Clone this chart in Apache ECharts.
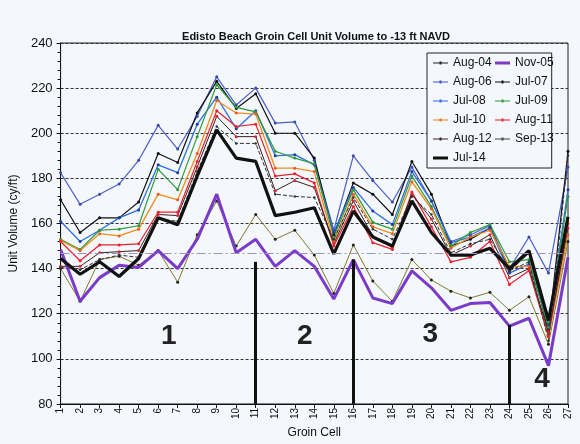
<!DOCTYPE html>
<html>
<head>
<meta charset="utf-8">
<script src="https://cdn.jsdelivr.net/npm/echarts@6/dist/echarts.min.js"></script>
<style>
html,body{margin:0;padding:0;background:#f4f7fb;}
#c{width:580px;height:444px;}
</style>
</head>
<body>
<div id="c"></div>
<script>
// ---- data ----
var cells = ['1','2','3','4','5','6','7','8','9','10','11','12','13','14','15','16','17','18','19','20','21','22','23','24','25','26','27'];
var seriesNames = ['Aug-04','Nov-05','Aug-06','Jul-07','Jul-08','Jul-09','Jul-10','Aug-11','Aug-12','Sep-13','Jul-14'];
var aug04 = [140,125.5,144,145.5,141.5,148,134,155,170,150,164,153,157,146,129,150.5,134.5,125.5,144,135,130,127,129.5,121.5,127.5,106.5,152];
var nov05 = [148.5,125.5,136,141.5,140.5,148,140,153,173,147,153,141,148,141,126.5,144,127,124.5,139,131.5,121.5,124.5,125,114.5,118,97,145];
var aug06 = [182.5,168.5,173,177.5,188,203.5,193,207.5,225,212.5,220,204.5,205,188,157,190,179,169.5,185,170,152,155,159,140,154,138,185];
var jul07 = [170.5,156,162.5,162.5,169.5,191,187,209,223,211,217.5,200,200,189,155,178,173,164,187.5,173,150,153,158,139,147,112,192];
var jul08 = [161,152,157,162.5,166,186,182.5,204,216,202,210,190,190.5,186,156,176,165.5,159.5,183,170,151.5,154,158,138,142,115,175];
var jul09 = [153,148.5,157,157.5,159,184,175,198.5,221.5,211.5,209.5,192,189,186.5,154,175,160.5,157.5,181,167.5,150,156,159.5,143,144,114,172];
var jul10 = [152.5,148,155.5,154.5,157.5,173,170.5,191,214.5,209,208.5,184.5,184.5,183,152,173,158.5,155.5,178.5,166.5,149,154,157,141,141,110,155];
var aug11 = [152,143.5,150.5,150.5,151,165,165,187.5,210,203,204,181,182,178,150,167.5,151.5,148.5,174,158.5,143,145,152,133,139,110,160];
var aug12 = [141,141,147,147.5,148,164,163.5,185,207.5,198.5,198.5,174.5,179,176,151,170,154.5,149.5,173,162,146,150,155,136,140,112,158];
var sep13 = [140.5,139.5,144,146,145,162,161,183,203,195.5,195.5,173,172,171.5,153,171.5,157.5,153,172,164,147,151,153,139,143,108,190];
var jul14 = [144.5,137.5,143,136.5,144.5,162.5,159.5,181,201.5,189,187.5,163.5,165,167,146.5,165.5,154,150,170,156,146,146,149,140,148,117,163];
var yTicks = [80,100,120,140,160,180,200,220,240];
var referenceLevel = 147;
var dividerCells = ['11','16','24'];
var dividerTops = [143,144,115];
var regionLabels = ['1','2','3','4'];
var regionCells = ['7','13','20','25'];
var regionValues = [110,110,111,91];

// ---- styles ----
var FONT = 'Liberation Sans, Arial, sans-serif';
var ICON_THIN = 'path://M0,0L0.01,0L0,0.01ZM30,20L29.99,20L30,19.99ZM0,9.2L30,9.2L30,10.8L0,10.8ZM13,7L17,7L17,13L13,13Z';
var ICON_THICK = 'path://M0,0L0.01,0L0,0.01ZM30,20L29.99,20L30,19.99ZM0,7L30,7L30,13L0,13Z';
var styles = {
  'Aug-04': {line:'#7f7a2c', item:'#222', w:1, sym:'circle', ss:3},
  'Nov-05': {line:'#7a3cc8', item:'#7a3cc8', w:3, sym:'none', ss:0},
  'Aug-06': {line:'#4b5fcf', item:'#3a4aa8', w:1.2, sym:'circle', ss:3},
  'Jul-07': {line:'#111', item:'#111', w:1.2, sym:'circle', ss:3},
  'Jul-08': {line:'#2f6fe0', item:'#1d3f9a', w:1.3, sym:'circle', ss:3},
  'Jul-09': {line:'#2c9a3c', item:'#2c9a3c', w:1.2, sym:'circle', ss:3},
  'Jul-10': {line:'#f28c1c', item:'#ea5a22', w:1.3, sym:'circle', ss:3},
  'Aug-11': {line:'#e8222c', item:'#e8222c', w:1.2, sym:'circle', ss:3},
  'Aug-12': {line:'#3a2222', item:'#d8282c', w:1, sym:'circle', ss:3},
  'Sep-13': {line:'#333', item:'#333', w:1, sym:'circle', ss:2.5, dash:'dashed'},
  'Jul-14': {line:'#111', item:'#111', w:3.2, sym:'none', ss:0}
};
var legendIconColor = {'Aug-04':'#222','Nov-05':'#7a3cc8','Aug-06':'#3f55c4','Jul-07':'#111','Jul-08':'#2f6fe0','Jul-09':'#2c9a3c','Jul-10':'#f07a1c','Aug-11':'#e8222c','Aug-12':'#3a2222','Sep-13':'#444','Jul-14':'#111'};
var dataMap = {'Aug-04':aug04,'Nov-05':nov05,'Aug-06':aug06,'Jul-07':jul07,'Jul-08':jul08,'Jul-09':jul09,'Jul-10':jul10,'Aug-11':aug11,'Aug-12':aug12,'Sep-13':sep13,'Jul-14':jul14};
var drawOrder = ['Aug-04','Aug-06','Jul-07','Jul-08','Jul-09','Jul-10','Aug-11','Aug-12','Sep-13','Nov-05','Jul-14'];

var series = drawOrder.map(function(n){
  var s = styles[n];
  return {
    name:n, type:'line', data:dataMap[n], symbol:s.sym, symbolSize:s.ss, showSymbol:s.sym!=='none',
    lineStyle:{color:s.line, width:s.w, type:s.dash||'solid'},
    itemStyle:{color:s.item},
    emphasis:{disabled:true}, animation:false, z: (n==='Jul-14'||n==='Nov-05')?3:2
  };
});

var mlData = [{yAxis:referenceLevel, lineStyle:{color:'#a393b8', width:1, type:[9,3,2,3]}}];
dividerCells.forEach(function(c,i){
  mlData.push([{coord:[c, dividerTops[i]]},{coord:[c, yTicks[0]]}]);
});
series.push({
  name:'annot', type:'line', data:[], animation:false,
  markLine:{silent:true, symbol:'none', label:{show:false}, lineStyle:{color:'#111', width:3, type:'solid'}, data:mlData, animation:false},
  markPoint:{silent:true, symbol:'circle', symbolSize:0,
    label:{show:true, color:'#222', fontSize:28, fontWeight:'bold', fontFamily:FONT, position:'inside'},
    data: regionLabels.map(function(t,i){
      var off = [[-9,0],[10,0],[-1,0],[13,0]][i];
      return {coord:[regionCells[i], regionValues[i]], value:t, label:{formatter:t, offset:off}};
    }),
    animation:false}
});

function legendItems(names){
  return names.map(function(n){
    return {name:n, icon:(n==='Nov-05'||n==='Jul-14')?ICON_THICK:ICON_THIN, itemStyle:{color:legendIconColor[n]}};
  });
}
var legendCommon = {orient:'vertical', itemWidth:15, itemHeight:10, itemGap:7,
  textStyle:{fontFamily:FONT, fontSize:12, color:'#111', lineHeight:12}, selectedMode:false};

var option = {
  backgroundColor:'#f4f7fb',
  animation:false,
  title:{text:'Edisto Beach Groin Cell Unit Volume to -13 ft NAVD', left:311, top:26, textAlign:'center',
    textStyle:{fontFamily:FONT, fontSize:11, fontWeight:'bold', color:'#111'}},
  grid:{left:56, right:12, top:43, bottom:34, show:true, borderColor:'#222', borderWidth:1, backgroundColor:'transparent'},
  legend:[
    Object.assign({}, legendCommon, {left:427, top:53, padding:[4,60,4,6], borderColor:'#222', borderWidth:1, backgroundColor:'#f4f7fb',
      data:legendItems(['Aug-04','Aug-06','Jul-08','Jul-10','Aug-12','Jul-14'])}),
    Object.assign({}, legendCommon, {left:491, top:53, padding:[4,4,4,4], z:10,
      data:legendItems(['Nov-05','Jul-07','Jul-09','Aug-11','Sep-13'])})
  ],
  xAxis:{type:'category', data:cells, boundaryGap:false,
    name:'Groin Cell', nameLocation:'middle', nameGap:18,
    nameTextStyle:{fontFamily:FONT, fontSize:12, color:'#111'},
    axisLine:{lineStyle:{color:'#111', width:1}},
    axisTick:{show:true, length:4, lineStyle:{color:'#111'}},
    axisLabel:{rotate:90, fontFamily:FONT, fontSize:10, color:'#111', margin:4, interval:0},
    splitLine:{show:false}},
  yAxis:{type:'value', min:yTicks[0], max:yTicks[yTicks.length-1], interval:20,
    name:'Unit Volume (cy/ft)', nameLocation:'middle', nameGap:40,
    nameTextStyle:{fontFamily:FONT, fontSize:12, color:'#111'},
    axisLine:{show:true, lineStyle:{color:'#111'}},
    axisTick:{show:true, length:4, lineStyle:{color:'#111'}},
    minorTick:{show:true, splitNumber:5, length:3, lineStyle:{color:'#111'}},
    axisLabel:{fontFamily:FONT, fontSize:13, color:'#111', margin:8},
    splitLine:{show:true, lineStyle:{color:'#333', width:1, type:[3,2]}}},
  series:series
};
var chart = echarts.init(document.getElementById('c'), null, {renderer:'canvas'});
chart.setOption(option);
</script>
</body>
</html>
